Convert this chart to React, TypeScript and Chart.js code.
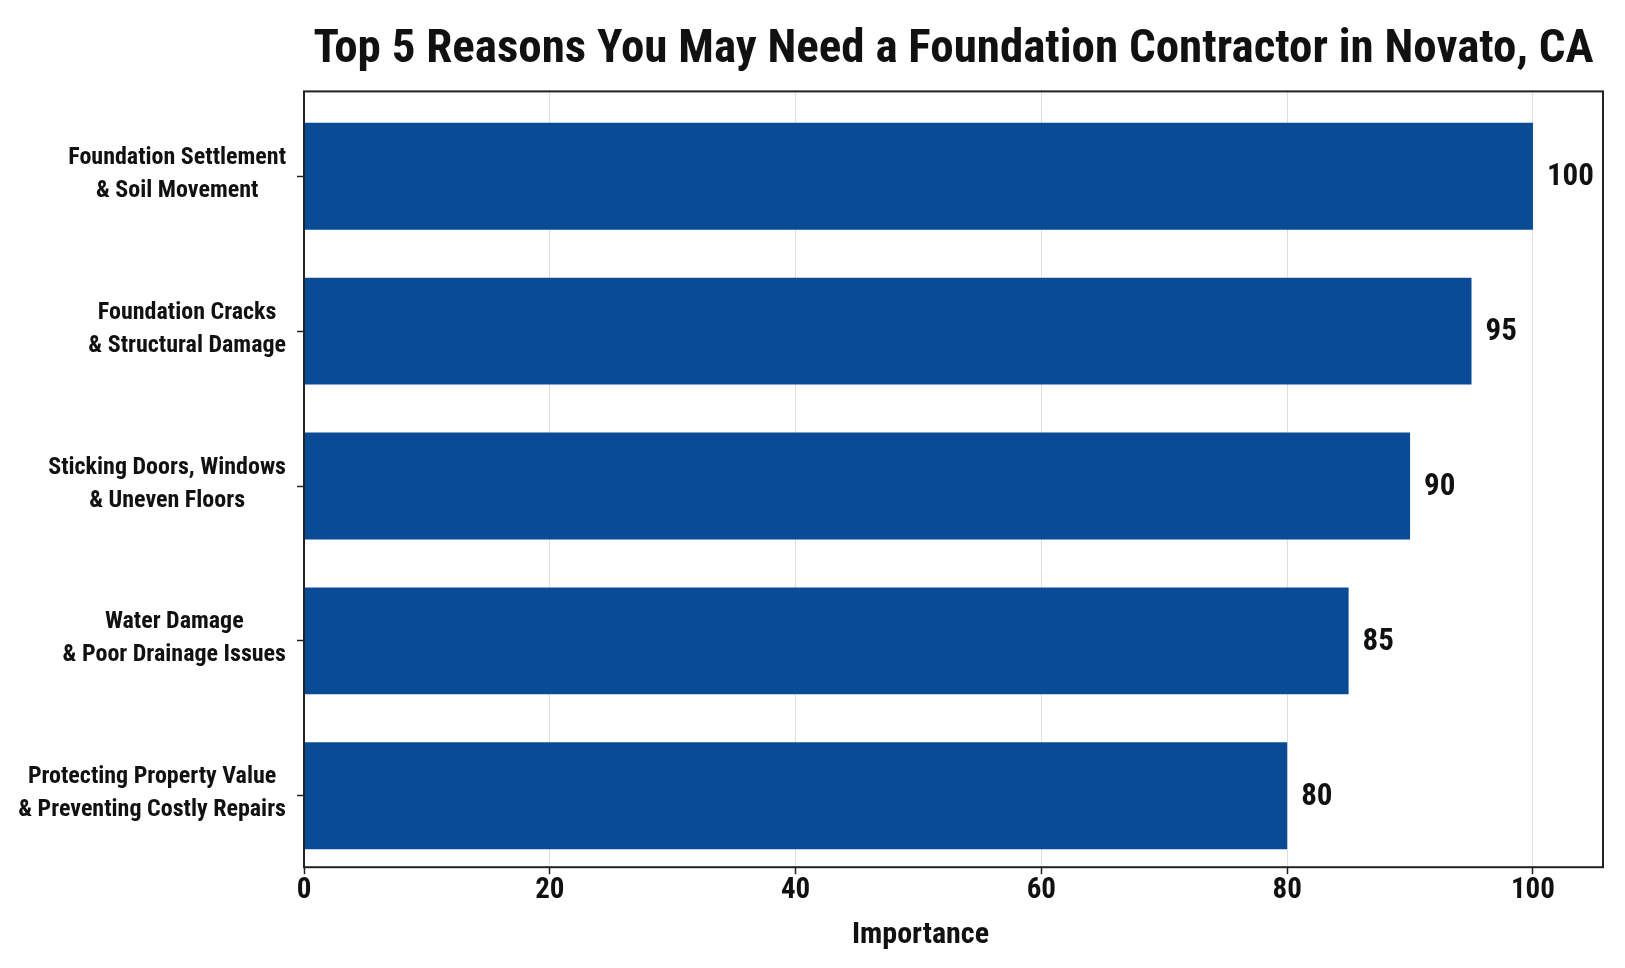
import { useEffect, useRef } from "react"
import { Chart, registerables, type Plugin } from "chart.js"

Chart.register(...registerables)

const categories = [
  ["Foundation Settlement", "& Soil Movement"],
  ["Foundation Cracks", "& Structural Damage"],
  ["Sticking Doors, Windows", "& Uneven Floors"],
  ["Water Damage", "& Poor Drainage Issues"],
  ["Protecting Property Value", "& Preventing Costly Repairs"],
]
const importance = [100, 95, 90, 85, 80]
const xTicks = [0, 20, 40, 60, 80, 100]
const xTitle = "Importance"

const FONT = "'Liberation Sans Narrow', 'Roboto Condensed', 'DejaVu Sans Condensed', Roboto, sans-serif"
const BAR_COLOR = "#0a4b96"
const INK = "#111111"

// frame, value labels, x title and centred multi-line category labels
const extras: Plugin<"bar"> = {
  id: "extras",
  afterDraw(chart) {
    const { ctx, chartArea } = chart
    const yScale = chart.scales.y
    const xScale = chart.scales.x
    ctx.save()

    ctx.strokeStyle = "#222222"
    ctx.lineWidth = 2
    ctx.strokeRect(chartArea.left, chartArea.top, chartArea.right - chartArea.left, chartArea.bottom - chartArea.top)

    ctx.fillStyle = INK
    ctx.font = `bold 31px ${FONT}`
    ctx.textAlign = "left"
    ctx.textBaseline = "middle"
    const meta = chart.getDatasetMeta(0)
    meta.data.forEach((bar, i) => {
      ctx.fillText(String(importance[i]), bar.x + 14, bar.y + 1)
    })

    // axis title sits a little left of the plot centre in the original
    ctx.font = `bold 30px ${FONT}`
    ctx.textAlign = "center"
    ctx.fillText(xTitle, (chartArea.left + chartArea.right) / 2 - 33, xScale.bottom - 17)

    ctx.font = `bold 24px ${FONT}`
    const lineH = 33
    categories.forEach((lines, i) => {
      const yc = yScale.getPixelForValue(i)
      const widest = Math.max(...lines.map((l) => ctx.measureText(l).width))
      const cx = chartArea.left - 18 - widest / 2
      lines.forEach((l, j) => {
        ctx.fillText(l, cx, yc - 2 + (j - (lines.length - 1) / 2) * lineH)
      })
    })
    ctx.restore()
  },
}

export default function App() {
  const canvasRef = useRef<HTMLCanvasElement>(null)
  const chartRef = useRef<Chart | null>(null)

  useEffect(() => {
    document.body.style.margin = "0"
    document.body.style.background = "#ffffff"
    if (!canvasRef.current) return
    if (chartRef.current) chartRef.current.destroy()

    chartRef.current = new Chart(canvasRef.current, {
      type: "bar",
      data: {
        datasets: [
          {
            label: xTitle,
            data: importance.map((v, i) => ({ x: v, y: i })),
            backgroundColor: BAR_COLOR,
            borderWidth: 0,
            categoryPercentage: 1,
            barPercentage: 0.69,
          },
        ],
      },
      options: {
        indexAxis: "y",
        animation: false,
        responsive: true,
        maintainAspectRatio: false,
        layout: { padding: { left: 8, right: 22, top: 8, bottom: 16 } },
        plugins: {
          legend: { display: false },
          tooltip: { enabled: false },
          title: {
            display: true,
            text: "Top 5 Reasons You May Need a Foundation Contractor in Novato, CA",
            color: INK,
            fullSize: false,
            font: { family: FONT, size: 47, weight: "bold" },
            padding: { top: 14, bottom: 13 },
          },
        },
        scales: {
          x: {
            type: "linear",
            min: 0,
            max: 105.7,
            afterBuildTicks: (axis) => {
              axis.ticks = xTicks.map((v) => ({ value: v }))
            },
            grid: {
              color: "rgba(190,190,190,0.5)",
              lineWidth: 1,
              tickColor: "#222222",
              tickLength: 7,
              tickWidth: 1.5,
            },
            border: { display: false },
            ticks: {
              color: INK,
              font: { family: FONT, size: 29, weight: "bold" },
              padding: -1,
              maxRotation: 0,
            },
            title: {
              display: true,
              text: xTitle,
              color: "rgba(0,0,0,0)",
              font: { family: FONT, size: 30, weight: "bold" },
              padding: { top: 9, bottom: 0 },
            },
          },
          y: {
            type: "linear",
            reverse: true,
            offset: false,
            min: -0.548,
            max: 4.461,
            afterBuildTicks: (axis) => {
              axis.ticks = categories.map((_, i) => ({ value: i }))
            },
            afterFit: (axis) => {
              axis.width = 296
            },
            grid: {
              display: true,
              offset: false,
              drawOnChartArea: false,
              tickColor: "#222222",
              tickLength: 7,
              tickWidth: 1.5,
            },
            border: { display: false },
            ticks: {
              color: "rgba(0,0,0,0)",
              font: { family: FONT, size: 24, weight: "bold" },
              padding: 11,
            },
          },
        },
      },
      plugins: [extras],
    })

    return () => {
      if (chartRef.current) {
        chartRef.current.destroy()
        chartRef.current = null
      }
    }
  }, [])

  return (
    <div style={{ width: "1625px", height: "968px", position: "relative" }}>
      <canvas ref={canvasRef} />
    </div>
  )
}
